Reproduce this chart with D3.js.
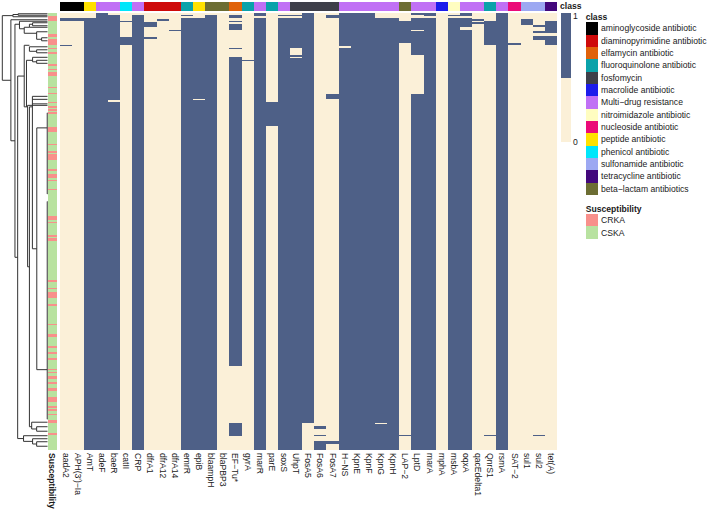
<!DOCTYPE html>
<html>
<head>
<meta charset="utf-8">
<script src="https://cdn.jsdelivr.net/npm/d3@7"></script>
<style>
  html, body { margin: 0; padding: 0; background: #fff; }
  text { font-family: "Liberation Sans", Arial, sans-serif; fill: #1a1a1a; }
</style>
</head>
<body>
<svg id="chart" width="708" height="510"></svg>
<script>
// Heatmap data. Rows are counted from the top.
const rowCount = 291;

const genes = ["aadA2", "APH(3')−Ia", "AmT", "adeF", "baeR", "catII", "CRP", "dfrA1", "dfrA12", "dfrA14",
  "emrR", "epiB", "blaampH", "blaPBP3", "EF−Tu*", "gyrA", "marR", "parE", "soxS", "UhpT", "FosA5", "FosA6",
  "FosA7", "H−NS", "KpnE", "KpnF", "KpnG", "KpnH", "LAP−2", "LptD", "marA", "mphA", "msbA", "oqxA",
  "qacEdelta1", "QnrS1", "rsmA", "SAT−2", "sul1", "sul2", "tet(A)"];

const classNames = ["aminoglycoside antibiotic", "diaminopyrimidine antibiotic", "elfamycin antibiotic",
  "fluoroquinolone antibiotic", "fosfomycin", "macrolide antibiotic", "Multi−drug resistance",
  "nitroimidazole antibiotic", "nucleoside antibiotic", "peptide antibiotic", "phenicol antibiotic",
  "sulfonamide antibiotic", "tetracycline antibiotic", "beta−lactam antibiotics"];
const classColors = ["#000000", "#CE0A0A", "#E0620A", "#0AA2AA", "#3E3F49", "#1C1CEB", "#C070F5",
  "#FFFDC0", "#EB0A78", "#FFE100", "#00E6FA", "#9CA8F2", "#43087C", "#6C6D33"];

// class index for each gene, same order as genes
const geneClass = [0, 0, 9, 6, 6, 10, 6, 1, 1, 1, 3, 9, 13, 13, 2, 3, 6, 3, 6, 4, 4, 4, 4, 6, 6, 6, 6, 6,
  13, 6, 6, 5, 7, 6, 6, 3, 6, 8, 11, 11, 12];

// rows where each gene is present, as [first, end) runs
const presence = [
  [[3, 5], [21, 22]],
  [[3, 5]],
  [[3, 291]],
  [[0, 291]],
  [[1, 58], [59, 291]],
  [[5, 6], [16, 21]],
  [[1, 291]],
  [[6, 9], [16, 17]],
  [[4, 5]],
  [[11, 12]],
  [[1, 2], [3, 291]],
  [[3, 57], [58, 291]],
  [[1, 291]],
  [],
  [[1, 3], [5, 6], [7, 11], [23, 24], [29, 235], [273, 282]],
  [[31, 32]],
  [[0, 2], [3, 291]],
  [[59, 75]],
  [[1, 2], [3, 291]],
  [[1, 2], [3, 23], [28, 29], [30, 291]],
  [[0, 273]],
  [[275, 277], [281, 282], [285, 291]],
  [[1, 3], [54, 57], [285, 287]],
  [[0, 22], [23, 291]],
  [[0, 291]],
  [[0, 291]],
  [[3, 273], [274, 291]],
  [[3, 291]],
  [[5, 20], [281, 282]],
  [[0, 1], [3, 11], [12, 28], [54, 291]],
  [[0, 2], [3, 291]],
  [],
  [[1, 2], [3, 291]],
  [[0, 2], [3, 9], [11, 291]],
  [[4, 5], [6, 7]],
  [[5, 21], [281, 282]],
  [[0, 291]],
  [[20, 21]],
  [[4, 8]],
  [[8, 9], [12, 13], [15, 18], [281, 282]],
  [[5, 13], [15, 21]]
];

// rows of the CRKA samples, everything else is CSKA
const crkaRuns = [[2, 5], [14, 16], [17, 21], [23, 24], [26, 27], [34, 35], [37, 38], [39, 42], [49, 50],
  [53, 54], [59, 60], [62, 63], [64, 65], [66, 67], [76, 79], [87, 88], [92, 93], [94, 98], [104, 105],
  [107, 110], [111, 112], [117, 118], [135, 138], [139, 140], [148, 149], [150, 152], [178, 179], [183, 184],
  [186, 190], [194, 195], [207, 208], [214, 216], [222, 223], [226, 227], [230, 231], [237, 238], [239, 240],
  [242, 244], [246, 247], [250, 252], [256, 259], [262, 263], [264, 265], [267, 268], [271, 273], [280, 281]];
const susceptNames = ["CRKA", "CSKA"];
const susceptColors = ["#F8908B", "#B8E2A0"];

// dendrogram: h = merge height, c = children, a plain number is a leaf row, at = row of the stem if not centred
const tree = { h: 100, c: [
  { h: 76.5, c: [{ h: 65, c: [0, 1] }, 2] },
  { h: 81, c: [4, { h: 72, c: [
    { h: 62, at: 7, c: [5, { h: 51.5, at: 10, c: [
      { h: 40, at: 9, c: [{ h: 33, c: [6, 8] }, 9] },
      { h: 24, at: 13, c: [12, { h: 13, c: [16, 18] }] }
    ] }] },
    { h: 66, c: [
      { h: 51.5, c: [
        { h: 40, at: 21, c: [22, { h: 24, c: [24, 26] }] },
        { h: 46.5, at: 62, c: [
          { h: 33, at: 31, c: [29, { h: 24, c: [31, 33] }] },
          { h: 44, at: 62, c: [61, { h: 40, c: [
            { h: 33.4, at: 62, c: [55, 57, 60, { h: 23.7, c: [
              { h: 0.6, at: 76, c: [66, 120] },
              { h: 0.6, at: 237, c: [125, 270] }
            ] }] },
            { h: 35, at: 275, c: [272, { h: 24, c: [275, 278] }] }
          ] }] }
        ] }
      ] },
      { h: 53, c: [281, { h: 33, c: [283, { h: 24, c: [285, 288] }] }] }
    ] }
  ] }] }
] };

const colBlue = "#4E6087", colCream = "#FBF0D8";

const svg = d3.select("#chart");
const fontSize = 8.6;

const x = d3.scaleBand().domain(genes).range([59.5, 557]);
const y = d3.scaleBand().domain(d3.range(rowCount)).range([13, 450]);
const fill = d3.scaleOrdinal().domain([0, 1]).range([colCream, colBlue]);
const classColor = d3.scaleOrdinal().domain(classNames).range(classColors);
const susceptColor = d3.scaleOrdinal().domain(susceptNames).range(susceptColors);
const runHeight = r => y(r[1] - 1) + y.bandwidth() - y(r[0]);

// heatmap columns
const cols = svg.append("g").attr("shape-rendering", "crispEdges")
  .selectAll("g")
  .data(genes)
  .enter()
  .append("g")
  .attr("transform", d => `translate(${x(d)},0)`);

cols.append("rect")
  .attr("y", y.range()[0])
  .attr("width", x.bandwidth())
  .attr("height", y.range()[1] - y.range()[0])
  .attr("fill", fill(0));

cols.selectAll("rect.on")
  .data((d, i) => presence[i])
  .enter()
  .append("rect")
  .attr("class", "on")
  .attr("y", d => y(d[0]))
  .attr("width", x.bandwidth())
  .attr("height", runHeight)
  .attr("fill", fill(1));

// class annotation on top
svg.append("g").attr("shape-rendering", "crispEdges").selectAll("rect")
  .data(genes)
  .enter()
  .append("rect")
  .attr("x", d => x(d))
  .attr("y", 2)
  .attr("width", x.bandwidth())
  .attr("height", 9)
  .attr("fill", (d, i) => classColor(classNames[geneClass[i]]));

// susceptibility strip
const strip = svg.append("g").attr("shape-rendering", "crispEdges");
strip.append("rect")
  .attr("x", 47.7)
  .attr("y", y.range()[0])
  .attr("width", 9.3)
  .attr("height", y.range()[1] - y.range()[0])
  .attr("fill", susceptColor("CSKA"));
strip.selectAll("rect.crka")
  .data(crkaRuns)
  .enter()
  .append("rect")
  .attr("class", "crka")
  .attr("x", 47.7)
  .attr("y", d => y(d[0]))
  .attr("width", 9.3)
  .attr("height", runHeight)
  .attr("fill", susceptColor("CRKA"));

// gene labels
const axis = svg.append("g")
  .attr("transform", "translate(0,450)")
  .call(d3.axisBottom(x).tickSize(0));
axis.select(".domain").remove();
axis.selectAll("text")
  .attr("transform", "rotate(90)")
  .attr("x", 3)
  .attr("y", 0)
  .attr("dy", ".35em")
  .attr("text-anchor", "start")
  .style("font-family", '"Liberation Sans", Arial, sans-serif')
  .style("font-size", fontSize + "px");

svg.append("text")
  .attr("transform", "translate(52.4,453) rotate(90)")
  .attr("dy", ".35em")
  .attr("font-size", fontSize)
  .attr("font-weight", "bold")
  .text("Susceptibility");

// dendrogram
const hx = d3.scaleLinear().domain([0, 100]).range([47.5, 2.3]);
const root = d3.hierarchy(tree, d => (typeof d === "number" ? null : d.c));
root.eachAfter(n => {
  if (!n.children) {
    n.py = y(n.data) + y.bandwidth() / 2;
    n.px = hx(0);
  } else {
    const ys = n.children.map(c => c.py);
    n.lo = d3.min(ys);
    n.hi = d3.max(ys);
    n.py = n.data.at !== undefined ? y(n.data.at) + y.bandwidth() / 2 : (n.lo + n.hi) / 2;
    n.px = hx(n.data.h);
  }
});

const branch = d3.path();
root.each(n => {
  if (n.children) {
    branch.moveTo(n.px, n.lo);
    branch.lineTo(n.px, n.hi);
    n.children.forEach(c => {
      branch.moveTo(n.px, c.py);
      branch.lineTo(c.px, c.py);
    });
  }
});
svg.append("path")
  .attr("d", branch.toString())
  .attr("fill", "none")
  .attr("stroke", "#333")
  .attr("stroke-width", 1);

// colour key
const keyY = d3.scaleLinear().domain([0, 1]).range([142, 13]);
const keySteps = [[0, 0.5], [0.5, 1]];
svg.append("g").attr("shape-rendering", "crispEdges").selectAll("rect")
  .data(keySteps)
  .enter()
  .append("rect")
  .attr("x", 561)
  .attr("y", d => keyY(d[1]))
  .attr("width", 9.5)
  .attr("height", d => keyY(d[0]) - keyY(d[1]))
  .attr("fill", (d, i) => fill(i));
svg.append("g").selectAll("text")
  .data([0, 1])
  .enter()
  .append("text")
  .attr("x", 573)
  .attr("y", d => keyY(d) + d * 2.5)
  .attr("dy", ".35em")
  .attr("font-size", fontSize)
  .text(d => d);
svg.append("text")
  .attr("x", 560)
  .attr("y", 6)
  .attr("dy", ".35em")
  .attr("font-size", fontSize)
  .attr("font-weight", "bold")
  .text("class");

// legends
function legend(title, names, scale, top) {
  const g = svg.append("g").attr("transform", `translate(585.7,${top})`);
  const step = 12.33;
  g.append("text")
    .attr("y", -5.5)
    .attr("dy", ".35em")
    .attr("font-size", fontSize)
    .attr("font-weight", "bold")
    .text(title);
  const items = g.selectAll("g")
    .data(names)
    .enter()
    .append("g")
    .attr("transform", (d, i) => `translate(0,${i * step})`);
  items.append("rect")
    .attr("shape-rendering", "crispEdges")
    .attr("width", 12.3)
    .attr("height", step)
    .attr("fill", d => scale(d));
  items.append("text")
    .attr("x", 15.3)
    .attr("y", step / 2)
    .attr("dy", ".35em")
    .attr("font-size", fontSize)
    .text(d => d);
}
legend("class", classNames, classColor, 22.3);
legend("Susceptibility", susceptNames, susceptColor, 214);
</script>
</body>
</html>
